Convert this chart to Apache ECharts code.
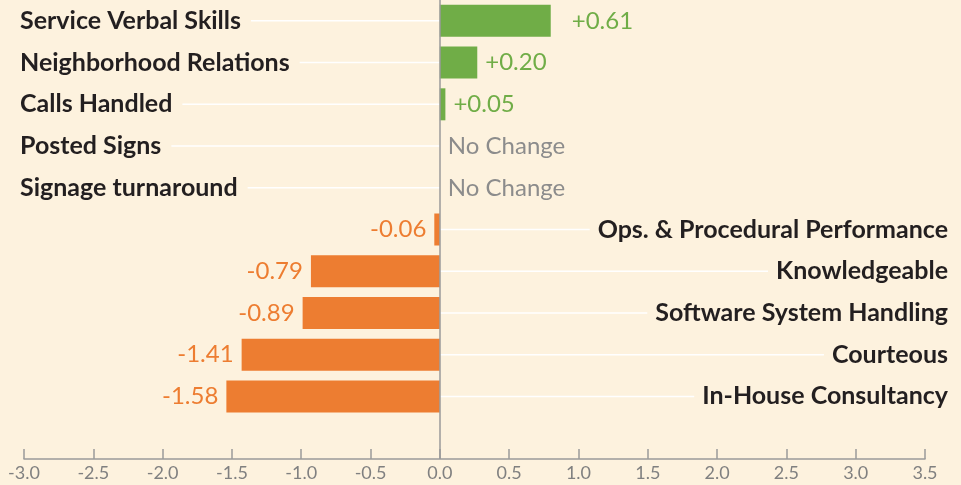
<!DOCTYPE html>
<html>
<head>
<meta charset="utf-8">
<script src="https://cdn.jsdelivr.net/npm/echarts@6/dist/echarts.min.js"></script>
<style>
html, body { margin: 0; padding: 0; background: #FDF2DE; }
#chart { width: 961px; height: 485px; }
</style>
</head>
<body>
<div id="chart"></div>
<script>
var categories = ['Service Verbal Skills', 'Neighborhood Relations', 'Calls Handled', 'Posted Signs', 'Signage turnaround',
    'Ops. & Procedural Performance', 'Knowledgeable', 'Software System Handling', 'Courteous', 'In-House Consultancy'];
// bar lengths as they sit against the x axis
var barValues = [0.80, 0.27, 0.04, 0, 0, -0.04, -0.93, -0.99, -1.43, -1.54];
// numbers printed next to the bars
var valueLabels = ['+0.61', '+0.20', '+0.05', 'No Change', 'No Change', '-0.06', '-0.79', '-0.89', '-1.41', '-1.58'];
var xMin = -3.0, xMax = 3.5, xStep = 0.5;
var leftCount = 5; // first rows get their name on the left, the rest on the right

var green = '#70AD47', orange = '#ED7D31', gray = '#8C8C8C';
var catFont = { size: 25, weight: 'bold', family: 'Lato' };
var leftMargin = 4, rightMargin = 23;

var ctx = document.createElement('canvas').getContext('2d');
function textWidth(s) {
    ctx.font = catFont.weight + ' ' + catFont.size + 'px ' + catFont.family;
    return ctx.measureText(s).width;
}

var chart = echarts.init(document.getElementById('chart'));

var yBase = {
    type: 'category',
    data: categories,
    inverse: true,
    max: categories.length, // one empty band below the last row
    axisLine: { show: false },
    axisTick: { show: false },
    splitLine: { show: false }
};

chart.setOption({
    backgroundColor: '#FDF2DE',
    animation: false,
    grid: { left: 24, right: 36, top: 0, bottom: 26 },
    xAxis: {
        type: 'value',
        min: xMin,
        max: xMax,
        interval: xStep,
        axisLine: { show: true, lineStyle: { color: '#9A9A9A', width: 1.5 } },
        axisTick: { show: true, inside: true, length: 10, lineStyle: { color: '#9A9A9A', width: 1.5 } },
        splitLine: { show: false },
        axisLabel: {
            color: '#808080', fontSize: 18, fontFamily: 'Lato', margin: 5,
            formatter: function (v) { return v.toFixed(1); }
        }
    },
    yAxis: [
        Object.assign({}, yBase, {
            position: 'left',
            axisLabel: {
                interval: 0, align: 'left', margin: leftMargin,
                color: '#231F20', fontSize: catFont.size, fontWeight: catFont.weight, fontFamily: catFont.family,
                formatter: function (v, i) { return i < leftCount ? v : ''; }
            }
        }),
        Object.assign({}, yBase, {
            position: 'right',
            axisLabel: {
                interval: 0, align: 'right', margin: rightMargin,
                color: '#231F20', fontSize: catFont.size, fontWeight: catFont.weight, fontFamily: catFont.family,
                formatter: function (v, i) { return i >= leftCount && i < categories.length ? v : ''; }
            }
        })
    ],
    series: [
        {
            // white leader lines from each name to the zero line
            type: 'custom',
            silent: true,
            z: 1,
            encode: { x: 0, y: 1 },
            data: categories.map(function (c, i) { return [0, i]; }),
            renderItem: function (params, api) {
                var i = api.value(1);
                var zero = api.coord([0, i]);
                var left = api.coord([xMin, i])[0];
                var right = api.coord([xMax, i])[0];
                var w = textWidth(categories[i]);
                var x1 = i < leftCount ? left - leftMargin + w + 10 : right + rightMargin - w - 8;
                return {
                    type: 'line',
                    shape: { x1: x1, y1: zero[1], x2: zero[0], y2: zero[1] },
                    style: { stroke: '#FFFFFF', lineWidth: 1.5 }
                };
            }
        },
        {
            type: 'bar',
            z: 2,
            barWidth: 32,
            data: barValues.map(function (v, i) {
                return {
                    value: v,
                    itemStyle: { color: v < 0 ? orange : green },
                    label: {
                        position: v < 0 ? 'left' : 'right',
                        distance: i === 0 ? 21 : 8,
                        color: v > 0 ? green : (v < 0 ? orange : gray)
                    }
                };
            }),
            label: {
                show: true,
                fontSize: 24,
                fontFamily: 'Lato',
                formatter: function (p) { return valueLabels[p.dataIndex]; }
            },
            markLine: {
                silent: true,
                symbol: ['none', 'none'],
                label: { show: false },
                lineStyle: { color: '#9A9A9A', width: 1.5, type: 'solid' },
                data: [{ xAxis: 0 }]
            }
        }
    ]
});
</script>
</body>
</html>
